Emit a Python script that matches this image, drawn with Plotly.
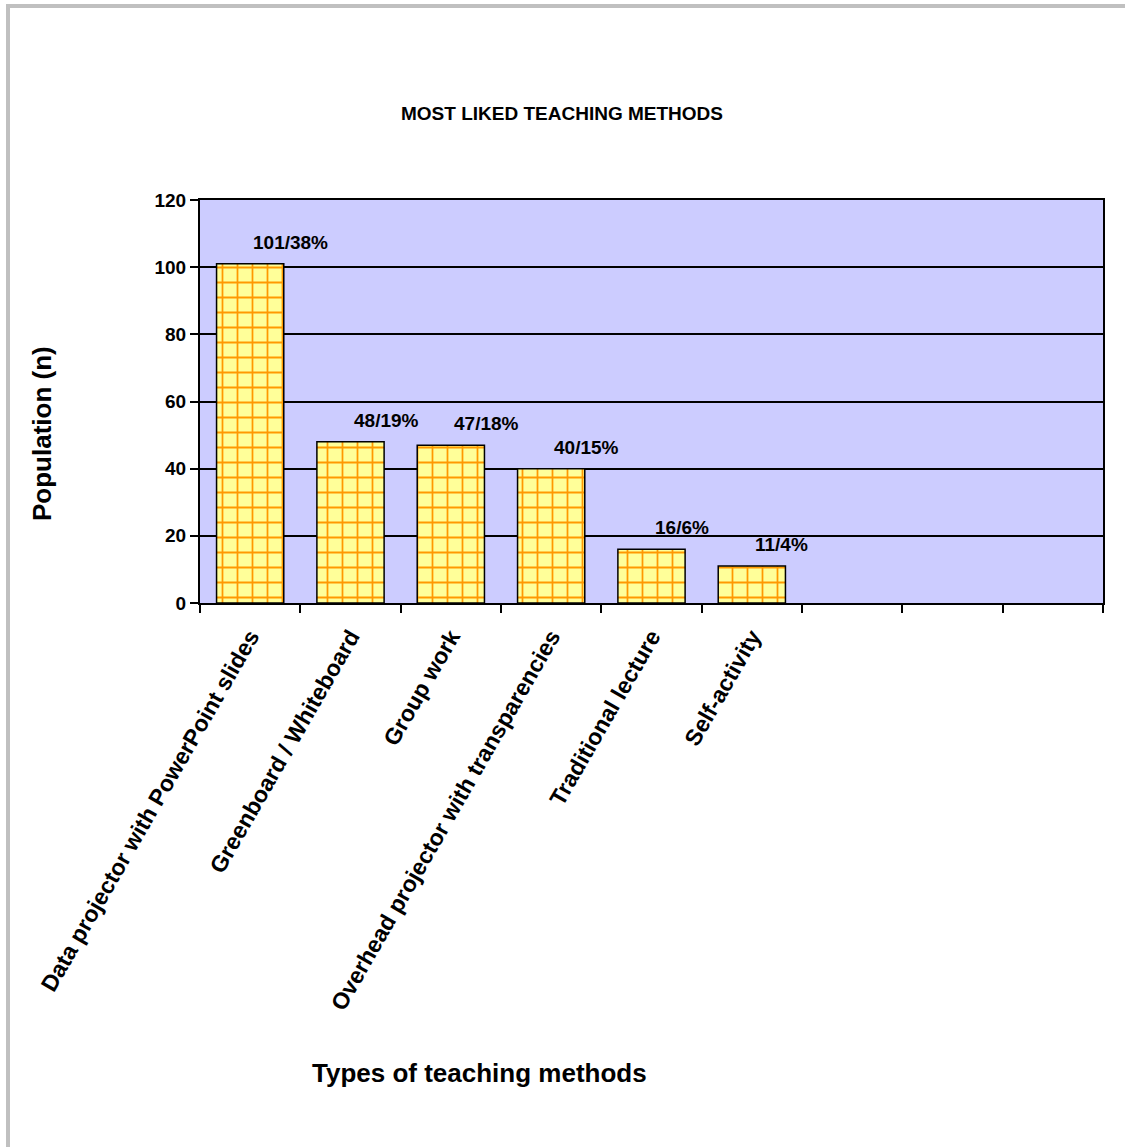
import plotly.graph_objects as go

categories = [
    "Data projector with PowerPoint slides",
    "Greenboard / Whiteboard",
    "Group work",
    "Overhead projector with transparencies",
    "Traditional lecture",
    "Self-activity",
]
values = [101, 48, 47, 40, 16, 11]
labels = ["101/38%", "48/19%", "47/18%", "40/15%", "16/6%", "11/4%"]
empty_slots = [" ", "  ", "   "]
y_ticks = [0, 20, 40, 60, 80, 100, 120]

FONT = "Arial, Liberation Sans, sans-serif"
all_cats = categories + empty_slots

fig = go.Figure()
fig.add_trace(go.Bar(
    x=categories,
    y=values,
    marker=dict(
        color="#FFFF99",
        line=dict(color="black", width=1.5),
        pattern=dict(shape="+", fgcolor="#FF9900", bgcolor="#FFFF99",
                     size=15, solidity=0.22, fillmode="replace"),
    ),
    width=0.67,
    showlegend=False,
    hoverinfo="skip",
))

annotations = []
for c, v, t in zip(categories, values, labels):
    annotations.append(dict(
        x=c, y=v, xref="x", yref="y", text="<b>%s</b>" % t,
        showarrow=False, xanchor="left", yanchor="bottom",
        xshift=1, yshift=9,
        font=dict(family=FONT, size=19, color="black"),
    ))

annotations.append(dict(
    x=(562 - 200) / 903, y=(603 - 113) / 403, xref="paper", yref="paper",
    text="<b>MOST LIKED TEACHING METHODS</b>", showarrow=False,
    xanchor="center", yanchor="middle",
    font=dict(family=FONT, size=19, color="black"),
))
annotations.append(dict(
    x=(479 - 200) / 903, y=(603 - 1073) / 403, xref="paper", yref="paper",
    text="<b>Types of teaching methods</b>", showarrow=False,
    xanchor="center", yanchor="middle",
    font=dict(family=FONT, size=26, color="black"),
))
annotations.append(dict(
    x=(42 - 200) / 903, y=(603 - 434) / 403, xref="paper", yref="paper",
    text="<b>Population (n)</b>", showarrow=False, textangle=-90,
    xanchor="center", yanchor="middle",
    font=dict(family=FONT, size=26, color="black"),
))

border = dict(color="#C0C0C0", width=4)
fig.update_layout(
    width=1125, height=1147,
    margin=dict(l=200, r=22, t=200, b=544),
    paper_bgcolor="white",
    plot_bgcolor="#CCCCFF",
    bargap=0.33,
    annotations=annotations,
    shapes=[
        dict(type="line", xref="paper", yref="paper",
             x0=(8 - 200) / 903, x1=1.3, y0=(603 - 6) / 403, y1=(603 - 6) / 403,
             line=border, layer="below"),
        dict(type="line", xref="paper", yref="paper",
             x0=(8 - 200) / 903, x1=(8 - 200) / 903, y0=-2, y1=(603 - 4) / 403,
             line=border, layer="below"),
    ],
    xaxis=dict(
        type="category",
        categoryorder="array", categoryarray=all_cats,
        range=[-0.5, len(all_cats) - 0.5],
        tickson="boundaries",
        ticks="outside", ticklen=8, tickwidth=2, tickcolor="black",
        tickangle=-60,
        ticklabelstandoff=9,
        tickfont=dict(family=FONT, size=23, color="black"),
        showline=True, linecolor="black", linewidth=2, mirror=True,
        showgrid=False, zeroline=False,
    ),
    yaxis=dict(
        range=[0, 120],
        tickvals=y_ticks,
        ticktext=["<b>%d</b>" % v for v in y_ticks],
        ticks="outside", ticklen=8, tickwidth=2, tickcolor="black",
        tickfont=dict(family=FONT, size=19, color="black"),
        showline=True, linecolor="black", linewidth=2, mirror=True,
        showgrid=True, gridcolor="black", gridwidth=1.5,
        zeroline=False,
    ),
)

fig.update_xaxes(
    tickvals=all_cats,
    ticktext=["<b>%s</b>" % c if c.strip() else "" for c in all_cats],
)

fig.write_html("out.html")
